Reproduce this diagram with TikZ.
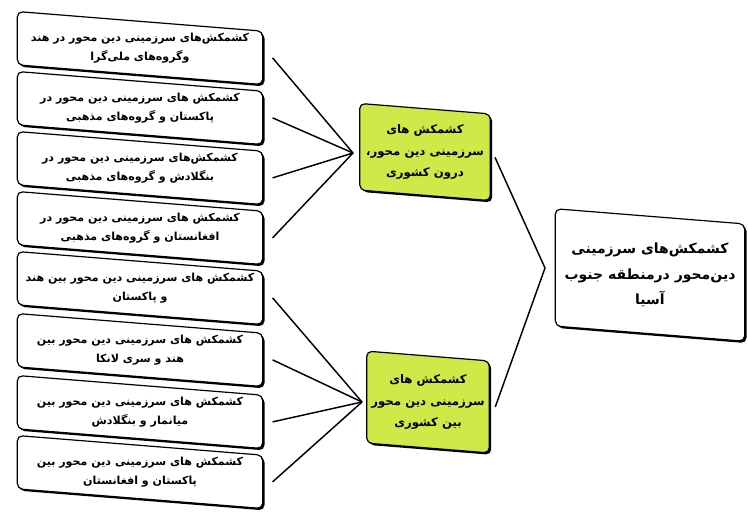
\documentclass[tikz,border=0pt]{standalone}
\usepackage{fontspec}
\usetikzlibrary{shadows}
\newfontfamily\arabicfont[Script=Arabic]{DejaVu Sans}
\TeXXeTstate=1
\newcommand{\fatxt}[1]{\beginR#1\endR}

\begin{document}
\begin{tikzpicture}[x=0.75pt,y=0.75pt,yscale=-1,xscale=1,
	box/.style={draw=black,line width=0.9pt,rounded corners=4pt,yslant=-0.08,inner sep=0pt,
		drop shadow={shadow xshift=1.4pt,shadow yshift=-1.4pt,fill=black,opacity=1}},
	leafbox/.style={box,fill=white,minimum width=184pt,minimum height=40pt},
	midbox/.style={box,fill={rgb, 255:red, 206; green, 233; blue, 72 }},
	rootbox/.style={box,fill=white,minimum width=142pt,minimum height=88pt},
	boxtext/.style={align=center,inner sep=1pt,font=\arabicfont\bfseries\fontsize{8.3}{14}\selectfont},
	midtext/.style={boxtext,font=\arabicfont\bfseries\fontsize{8.8}{16}\selectfont},
	roottext/.style={boxtext,font=\arabicfont\bfseries\fontsize{10.5}{19}\selectfont},
	link/.style={draw=black,line width=1.1pt}]
	\fill [white] (0,0) rectangle (748,519);
	\useasboundingbox (0,0) rectangle (748,519);
	% left column
	\node [leafbox] (b1) at (140,48) {};
	\node [leafbox] (b2) at (140,108) {};
	\node [leafbox] (b3) at (140,168) {};
	\node [leafbox] (b4) at (140,228) {};
	\node [leafbox] (b5) at (140,288) {};
	\node [leafbox] (b6) at (140,350) {};
	\node [leafbox] (b7) at (140,412) {};
	\node [leafbox] (b8) at (140,472) {};
	\node [boxtext] (t1) at (b1) {\fatxt{کشمکش‌های سرزمینی دین محور در هند}\\\fatxt{وگروه‌های ملی‌گرا}};
	\node [boxtext] (t2) at (b2) {\fatxt{کشمکش های سرزمینی دین محور در}\\\fatxt{پاکستان و گروه‌های مذهبی}};
	\node [boxtext] (t3) at (b3) {\fatxt{کشمکش‌های سرزمینی دین محور در}\\\fatxt{بنگلادش و گروه‌های مذهبی}};
	\node [boxtext] (t4) at (b4) {\fatxt{کشمکش های سرزمینی دین محور در}\\\fatxt{افغانستان و گروه‌های مذهبی}};
	\node [boxtext] (t5) at (b5) {\fatxt{کشمکش های سرزمینی دین محور بین هند}\\\fatxt{و پاکستان}};
	\node [boxtext] (t6) at (b6) {\fatxt{کشمکش های سرزمینی دین محور بین}\\\fatxt{هند و سری لانکا}};
	\node [boxtext] (t7) at (b7) {\fatxt{کشمکش های سرزمینی دین محور بین}\\\fatxt{میانمار و بنگلادش}};
	\node [boxtext] (t8) at (b8) {\fatxt{کشمکش های سرزمینی دین محور بین}\\\fatxt{پاکستان و افغانستان}};
	% middle column
	\node [midbox,minimum width=98pt,minimum height=65pt] (m1) at (425,152) {};
	\node [midbox,minimum width=92pt,minimum height=69pt] (m2) at (428,402) {};
	\node [midtext] (mt1) at (m1) {\fatxt{کشمکش های}\\\fatxt{سرزمینی دین محور،}\\\fatxt{درون کشوری}};
	\node [midtext] (mt2) at (m2) {\fatxt{کشمکش های}\\\fatxt{سرزمینی دین محور}\\\fatxt{بین کشوری}};
	% right
	\node [rootbox] (r) at (650,275) {};
	\node [roottext] (rt) at (r) {\fatxt{کشمکش‌های سرزمینی}\\\fatxt{دین‌محور درمنطقه جنوب}\\\fatxt{آسیا}};
	\coordinate (j1) at (353,153);
	\coordinate (j2) at (362,402);
	\coordinate (jr) at (545,268);
	% connectors
	\foreach \b in {b1,b2,b3,b4} \draw [link] ([xshift=7pt]\b.east) -- (j1);
	\foreach \b in {b5,b6,b7,b8} \draw [link] ([xshift=7pt]\b.east) -- (j2);
	\draw [link] ([xshift=3pt]m1.east) -- (jr);
	\draw [link] ([xshift=4pt]m2.east) -- (jr);
\end{tikzpicture}
\end{document}
